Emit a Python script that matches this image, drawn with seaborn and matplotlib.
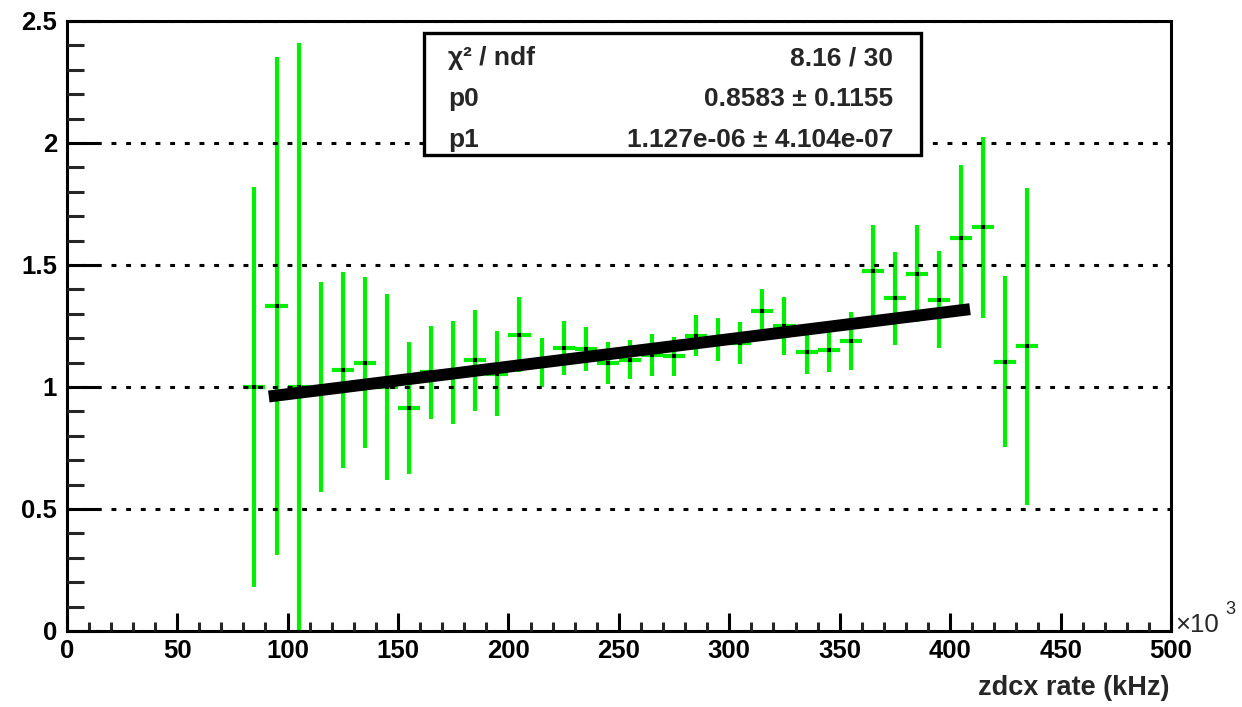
import numpy as np
import seaborn as sns
import matplotlib
matplotlib.use("Agg")
import matplotlib.pyplot as plt
from matplotlib.patches import Rectangle
from matplotlib.ticker import MultipleLocator, FuncFormatter


# data (x in units of 10^3 kHz)

bin_x = [85, 95, 105, 115, 125, 135, 145, 155, 165, 175,
         185, 195, 205, 215, 225, 235, 245, 255, 265, 275,
         285, 295, 305, 315, 325, 335, 345, 355, 365, 375,
         385, 395, 405, 415, 425, 435]

bin_y = [1.00, 1.333, 1.00, 1.00, 1.07, 1.10, 1.00, 0.915, 1.06, 1.06,
         1.11, 1.055, 1.215, 1.10, 1.16, 1.154, 1.099, 1.112, 1.132, 1.125,
         1.21, 1.195, 1.18, 1.312, 1.25, 1.142, 1.15, 1.188, 1.474, 1.364,
         1.465, 1.358, 1.61, 1.654, 1.104, 1.167]

bin_err = [0.82, 1.02, 1.41, 0.43, 0.40, 0.35, 0.38, 0.27, 0.19, 0.21,
           0.207, 0.175, 0.153, 0.10, 0.11, 0.09, 0.087, 0.08, 0.087, 0.08,
           0.085, 0.087, 0.087, 0.088, 0.118, 0.087, 0.09, 0.12, 0.19, 0.19,
           0.20, 0.20, 0.30, 0.37, 0.35, 0.65]

bin_half_width = 5

fit_x = [91.5, 409]
fit_y = [0.961, 1.319]

stat_names = ["\u03c7\u00b2 / ndf", "p0", "p1"]
stat_values = ["8.16 / 30", "0.8583 \u00b1 0.1155", "1.127e-06 \u00b1 4.104e-07"]


# style

sns.set_theme(style="ticks")
plt.rcParams['font.family'] = ['Liberation Sans', 'DejaVu Sans']
plt.rcParams['font.weight'] = 'bold'

fs = 18.5

fig = plt.figure(figsize=(12.42, 7.07), dpi=100)
ax = fig.add_axes([66.7 / 1242, 1 - 631 / 707, 1104.3 / 1242, 610 / 707])


# histogram points with errors

ax.errorbar(bin_x, bin_y, yerr=bin_err, xerr=bin_half_width,
            fmt='none', ecolor='#00f000', elinewidth=3, capsize=0, zorder=2)

sns.scatterplot(x=bin_x, y=bin_y, marker='s', s=11, color='black',
                linewidth=0, ax=ax, zorder=3)


# fit line

sns.lineplot(x=fit_x, y=fit_y, color='black', linewidth=8.6, ax=ax,
             solid_capstyle='butt', zorder=4)


# axes

ax.set_xlim(0, 500)
ax.set_ylim(0, 2.5)

ax.xaxis.set_major_locator(MultipleLocator(50))
ax.xaxis.set_minor_locator(MultipleLocator(10))
ax.yaxis.set_major_locator(MultipleLocator(0.5))
ax.yaxis.set_minor_locator(MultipleLocator(0.1))
ax.yaxis.set_major_formatter(FuncFormatter(lambda v, p: "%g" % v))

ax.tick_params(axis='x', which='major', direction='in', length=13, width=2.2,
               pad=6, labelsize=fs, top=False, colors='black')
ax.tick_params(axis='x', which='minor', direction='in', length=6.5, width=2.2,
               top=False)
ax.tick_params(axis='y', which='major', direction='in', length=23.8, width=2.2,
               pad=7, labelsize=fs, right=False, colors='black')
ax.tick_params(axis='y', which='minor', direction='in', length=11.9, width=2.2,
               right=False)

for lbl in ax.get_xticklabels() + ax.get_yticklabels():
    lbl.set_fontweight('bold')

ax.yaxis.grid(True, which='major', color='black', linestyle=(0, (1.6, 3.2)),
              linewidth=2.2)
ax.set_axisbelow(False)

for side in ['left', 'right', 'top', 'bottom']:
    ax.spines[side].set_visible(True)
    ax.spines[side].set_linewidth(2.2)
    ax.spines[side].set_color('black')

ax.set_xlabel("")
ax.set_ylabel("")

# x10^3 multiplier and axis title
fig.text(1175 / 1242, 1 - 632 / 707, "\u00d710", fontsize=fs,
         fontweight='normal', ha='left', va='baseline')
fig.text(1225 / 1242, 1 - 614 / 707, "3", fontsize=13,
         fontweight='normal', ha='left', va='baseline')
fig.text(1170 / 1242, 1 - 695 / 707, "zdcx rate (kHz)", fontsize=fs + 1,
         fontweight='bold', ha='right', va='baseline')


# stats box

box = Rectangle((424 / 1242, 1 - 155 / 707), 497 / 1242, 122 / 707,
                transform=fig.transFigure, facecolor='white',
                edgecolor='black', linewidth=2.4, zorder=5)
fig.add_artist(box)

row_y = [65, 106, 147]
for name, val, py in zip(stat_names, stat_values, row_y):
    fig.text(448 / 1242, 1 - py / 707, name, fontsize=fs + 0.5,
             fontweight='bold', ha='left', va='baseline', zorder=6)
    fig.text(893 / 1242, 1 - py / 707, val, fontsize=fs + 0.5,
             fontweight='bold', ha='right', va='baseline', zorder=6)

fig.savefig("out.png", dpi=100)
